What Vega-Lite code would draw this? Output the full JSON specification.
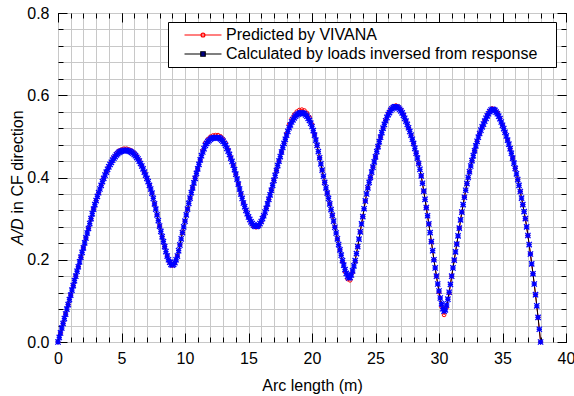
{
"$schema": "https://vega.github.io/schema/vega-lite/v6.json",
"width": 508, "height": 329,
"autosize": {"type": "none"},
"padding": {"left": 58, "top": 13, "right": 8, "bottom": 54},
"config": {
  "font": "Liberation Sans",
  "view": {"stroke": "black", "strokeWidth": 1},
  "axis": {"domain": false, "tickColor": "black", "tickWidth": 1, "gridColor": "#c8c8c8", "gridWidth": 1, "labelColor": "black", "titleColor": "black", "labelFontSize": 16, "titleFontSize": 16, "titleFontWeight": "normal", "labelFlush": false}
},
"resolve": {"axis": {"x": "independent", "y": "independent"}},
"datasets": {
"pred": [
{"x":0,"y":0},{"x":0.2,"y":0.022},{"x":0.4,"y":0.045},{"x":0.6,"y":0.068},{"x":0.8,"y":0.091},{"x":1.0,"y":0.114},{"x":1.2,"y":0.137},{"x":1.4,"y":0.160},{"x":1.6,"y":0.183},{"x":1.8,"y":0.206},
{"x":2.0,"y":0.229},{"x":2.2,"y":0.253},{"x":2.4,"y":0.276},{"x":2.6,"y":0.300},{"x":2.8,"y":0.323},{"x":3.0,"y":0.344},{"x":3.2,"y":0.363},{"x":3.4,"y":0.381},{"x":3.6,"y":0.398},{"x":3.8,"y":0.413},
{"x":4.0,"y":0.426},{"x":4.2,"y":0.437},{"x":4.4,"y":0.449},{"x":4.6,"y":0.459},{"x":4.8,"y":0.465},{"x":5.0,"y":0.468},{"x":5.2,"y":0.470},{"x":5.4,"y":0.470},{"x":5.6,"y":0.468},{"x":5.8,"y":0.465},
{"x":6.0,"y":0.460},{"x":6.2,"y":0.452},{"x":6.4,"y":0.442},{"x":6.6,"y":0.428},{"x":6.8,"y":0.413},{"x":7.0,"y":0.398},{"x":7.2,"y":0.381},{"x":7.4,"y":0.362},{"x":7.6,"y":0.336},{"x":7.8,"y":0.309},
{"x":8.0,"y":0.282},{"x":8.2,"y":0.256},{"x":8.4,"y":0.232},{"x":8.6,"y":0.209},{"x":8.8,"y":0.193},{"x":9.0,"y":0.186},{"x":9.2,"y":0.192},{"x":9.4,"y":0.209},{"x":9.6,"y":0.236},{"x":9.8,"y":0.266},
{"x":10.0,"y":0.294},{"x":10.2,"y":0.323},{"x":10.4,"y":0.350},{"x":10.6,"y":0.375},{"x":10.8,"y":0.398},{"x":11.0,"y":0.421},{"x":11.2,"y":0.443},{"x":11.4,"y":0.465},{"x":11.6,"y":0.484},{"x":11.8,"y":0.493},
{"x":12.0,"y":0.499},{"x":12.2,"y":0.502},{"x":12.4,"y":0.503},{"x":12.6,"y":0.503},{"x":12.8,"y":0.500},{"x":13.0,"y":0.494},{"x":13.2,"y":0.484},{"x":13.4,"y":0.468},{"x":13.6,"y":0.449},{"x":13.8,"y":0.430},
{"x":14.0,"y":0.408},{"x":14.2,"y":0.384},{"x":14.4,"y":0.360},{"x":14.6,"y":0.338},{"x":14.8,"y":0.320},{"x":15.0,"y":0.304},{"x":15.2,"y":0.291},{"x":15.4,"y":0.282},{"x":15.6,"y":0.279},{"x":15.8,"y":0.282},
{"x":16.0,"y":0.292},{"x":16.2,"y":0.307},{"x":16.4,"y":0.325},{"x":16.6,"y":0.347},{"x":16.8,"y":0.369},{"x":17.0,"y":0.393},{"x":17.2,"y":0.417},{"x":17.4,"y":0.440},{"x":17.6,"y":0.462},{"x":17.8,"y":0.483},
{"x":18.0,"y":0.506},{"x":18.2,"y":0.529},{"x":18.4,"y":0.543},{"x":18.6,"y":0.553},{"x":18.8,"y":0.560},{"x":19.0,"y":0.564},{"x":19.2,"y":0.565},{"x":19.4,"y":0.563},{"x":19.6,"y":0.557},{"x":19.8,"y":0.547},
{"x":20.0,"y":0.529},{"x":20.2,"y":0.505},{"x":20.4,"y":0.478},{"x":20.6,"y":0.448},{"x":20.8,"y":0.418},{"x":21.0,"y":0.388},{"x":21.2,"y":0.362},{"x":21.4,"y":0.336},{"x":21.6,"y":0.308},{"x":21.8,"y":0.279},
{"x":22.0,"y":0.251},{"x":22.2,"y":0.224},{"x":22.4,"y":0.196},{"x":22.6,"y":0.171},{"x":22.8,"y":0.153},{"x":23.0,"y":0.150},{"x":23.2,"y":0.169},{"x":23.4,"y":0.197},{"x":23.6,"y":0.232},{"x":23.8,"y":0.268},
{"x":24.0,"y":0.305},{"x":24.2,"y":0.343},{"x":24.4,"y":0.375},{"x":24.6,"y":0.400},{"x":24.8,"y":0.425},{"x":25.0,"y":0.450},{"x":25.2,"y":0.475},{"x":25.4,"y":0.498},{"x":25.6,"y":0.520},{"x":25.8,"y":0.539},
{"x":26.0,"y":0.556},{"x":26.2,"y":0.566},{"x":26.4,"y":0.573},{"x":26.6,"y":0.575},{"x":26.8,"y":0.572},{"x":27.0,"y":0.565},{"x":27.2,"y":0.552},{"x":27.4,"y":0.537},{"x":27.6,"y":0.521},{"x":27.8,"y":0.503},
{"x":28.0,"y":0.483},{"x":28.2,"y":0.459},{"x":28.4,"y":0.434},{"x":28.6,"y":0.404},{"x":28.8,"y":0.367},{"x":29.0,"y":0.327},{"x":29.2,"y":0.287},{"x":29.4,"y":0.244},{"x":29.6,"y":0.200},{"x":29.8,"y":0.160},
{"x":30.0,"y":0.121},{"x":30.2,"y":0.086},{"x":30.4,"y":0.066},{"x":30.6,"y":0.084},{"x":30.8,"y":0.119},{"x":31.0,"y":0.160},{"x":31.2,"y":0.199},{"x":31.4,"y":0.238},{"x":31.6,"y":0.277},{"x":31.8,"y":0.316},
{"x":32.0,"y":0.352},{"x":32.2,"y":0.385},{"x":32.4,"y":0.414},{"x":32.6,"y":0.441},{"x":32.8,"y":0.465},{"x":33.0,"y":0.488},{"x":33.2,"y":0.507},{"x":33.4,"y":0.523},{"x":33.6,"y":0.538},{"x":33.8,"y":0.552},
{"x":34.0,"y":0.562},{"x":34.2,"y":0.568},{"x":34.4,"y":0.565},{"x":34.6,"y":0.557},{"x":34.8,"y":0.544},{"x":35.0,"y":0.527},{"x":35.2,"y":0.510},{"x":35.4,"y":0.491},{"x":35.6,"y":0.470},{"x":35.8,"y":0.447},
{"x":36.0,"y":0.422},{"x":36.2,"y":0.395},{"x":36.4,"y":0.366},{"x":36.6,"y":0.334},{"x":36.8,"y":0.300},{"x":37.0,"y":0.259},{"x":37.2,"y":0.214},{"x":37.4,"y":0.166},{"x":37.6,"y":0.115},{"x":37.8,"y":0.060},
{"x":38.0,"y":0}
],
"calc": [
{"x":0,"y":0},{"x":0.1,"y":0.011},{"x":0.2,"y":0.022},{"x":0.3,"y":0.034},{"x":0.4,"y":0.045},{"x":0.5,"y":0.057},{"x":0.6,"y":0.068},{"x":0.7,"y":0.080},{"x":0.8,"y":0.091},{"x":0.9,"y":0.103},
{"x":1.0,"y":0.114},{"x":1.1,"y":0.126},{"x":1.2,"y":0.137},{"x":1.3,"y":0.149},{"x":1.4,"y":0.160},{"x":1.5,"y":0.172},{"x":1.6,"y":0.183},{"x":1.7,"y":0.195},{"x":1.8,"y":0.206},{"x":1.9,"y":0.218},
{"x":2.0,"y":0.229},{"x":2.1,"y":0.241},{"x":2.2,"y":0.253},{"x":2.3,"y":0.265},{"x":2.4,"y":0.276},{"x":2.5,"y":0.288},{"x":2.6,"y":0.300},{"x":2.7,"y":0.312},{"x":2.8,"y":0.323},{"x":2.9,"y":0.334},
{"x":3.0,"y":0.344},{"x":3.1,"y":0.354},{"x":3.2,"y":0.363},{"x":3.3,"y":0.372},{"x":3.4,"y":0.381},{"x":3.5,"y":0.390},{"x":3.6,"y":0.398},{"x":3.7,"y":0.406},{"x":3.8,"y":0.413},{"x":3.9,"y":0.420},
{"x":4.0,"y":0.426},{"x":4.1,"y":0.432},{"x":4.2,"y":0.437},{"x":4.3,"y":0.442},{"x":4.4,"y":0.447},{"x":4.5,"y":0.451},{"x":4.6,"y":0.455},{"x":4.7,"y":0.458},{"x":4.8,"y":0.461},{"x":4.9,"y":0.463},
{"x":5.0,"y":0.464},{"x":5.1,"y":0.465},{"x":5.2,"y":0.466},{"x":5.3,"y":0.466},{"x":5.4,"y":0.466},{"x":5.5,"y":0.465},{"x":5.6,"y":0.464},{"x":5.7,"y":0.463},{"x":5.8,"y":0.461},{"x":5.9,"y":0.459},
{"x":6.0,"y":0.456},{"x":6.1,"y":0.453},{"x":6.2,"y":0.449},{"x":6.3,"y":0.445},{"x":6.4,"y":0.440},{"x":6.5,"y":0.434},{"x":6.6,"y":0.428},{"x":6.7,"y":0.421},{"x":6.8,"y":0.413},{"x":6.9,"y":0.406},
{"x":7.0,"y":0.398},{"x":7.1,"y":0.390},{"x":7.2,"y":0.381},{"x":7.3,"y":0.372},{"x":7.4,"y":0.362},{"x":7.5,"y":0.349},{"x":7.6,"y":0.336},{"x":7.7,"y":0.323},{"x":7.8,"y":0.309},{"x":7.9,"y":0.295},
{"x":8.0,"y":0.282},{"x":8.1,"y":0.269},{"x":8.2,"y":0.256},{"x":8.3,"y":0.244},{"x":8.4,"y":0.232},{"x":8.5,"y":0.220},{"x":8.6,"y":0.209},{"x":8.7,"y":0.200},{"x":8.8,"y":0.194},{"x":8.9,"y":0.189},
{"x":9.0,"y":0.187},{"x":9.1,"y":0.189},{"x":9.2,"y":0.193},{"x":9.3,"y":0.200},{"x":9.4,"y":0.209},{"x":9.5,"y":0.222},{"x":9.6,"y":0.236},{"x":9.7,"y":0.251},{"x":9.8,"y":0.266},{"x":9.9,"y":0.280},
{"x":10.0,"y":0.294},{"x":10.1,"y":0.309},{"x":10.2,"y":0.323},{"x":10.3,"y":0.337},{"x":10.4,"y":0.350},{"x":10.5,"y":0.363},{"x":10.6,"y":0.375},{"x":10.7,"y":0.387},{"x":10.8,"y":0.398},{"x":10.9,"y":0.410},
{"x":11.0,"y":0.421},{"x":11.1,"y":0.432},{"x":11.2,"y":0.443},{"x":11.3,"y":0.453},{"x":11.4,"y":0.462},{"x":11.5,"y":0.470},{"x":11.6,"y":0.478},{"x":11.7,"y":0.483},{"x":11.8,"y":0.487},{"x":11.9,"y":0.490},
{"x":12.0,"y":0.493},{"x":12.1,"y":0.495},{"x":12.2,"y":0.496},{"x":12.3,"y":0.497},{"x":12.4,"y":0.497},{"x":12.5,"y":0.497},{"x":12.6,"y":0.497},{"x":12.7,"y":0.496},{"x":12.8,"y":0.494},{"x":12.9,"y":0.491},
{"x":13.0,"y":0.488},{"x":13.1,"y":0.483},{"x":13.2,"y":0.478},{"x":13.3,"y":0.471},{"x":13.4,"y":0.464},{"x":13.5,"y":0.456},{"x":13.6,"y":0.447},{"x":13.7,"y":0.439},{"x":13.8,"y":0.430},{"x":13.9,"y":0.419},
{"x":14.0,"y":0.408},{"x":14.1,"y":0.396},{"x":14.2,"y":0.384},{"x":14.3,"y":0.372},{"x":14.4,"y":0.360},{"x":14.5,"y":0.349},{"x":14.6,"y":0.338},{"x":14.7,"y":0.329},{"x":14.8,"y":0.320},{"x":14.9,"y":0.312},
{"x":15.0,"y":0.304},{"x":15.1,"y":0.298},{"x":15.2,"y":0.292},{"x":15.3,"y":0.288},{"x":15.4,"y":0.284},{"x":15.5,"y":0.282},{"x":15.6,"y":0.281},{"x":15.7,"y":0.282},{"x":15.8,"y":0.284},{"x":15.9,"y":0.288},
{"x":16.0,"y":0.293},{"x":16.1,"y":0.300},{"x":16.2,"y":0.307},{"x":16.3,"y":0.316},{"x":16.4,"y":0.325},{"x":16.5,"y":0.336},{"x":16.6,"y":0.347},{"x":16.7,"y":0.358},{"x":16.8,"y":0.369},{"x":16.9,"y":0.381},
{"x":17.0,"y":0.393},{"x":17.1,"y":0.405},{"x":17.2,"y":0.417},{"x":17.3,"y":0.429},{"x":17.4,"y":0.440},{"x":17.5,"y":0.451},{"x":17.6,"y":0.462},{"x":17.7,"y":0.473},{"x":17.8,"y":0.483},{"x":17.9,"y":0.493},
{"x":18.0,"y":0.503},{"x":18.1,"y":0.512},{"x":18.2,"y":0.521},{"x":18.3,"y":0.528},{"x":18.4,"y":0.535},{"x":18.5,"y":0.540},{"x":18.6,"y":0.545},{"x":18.7,"y":0.549},{"x":18.8,"y":0.552},{"x":18.9,"y":0.554},
{"x":19.0,"y":0.556},{"x":19.1,"y":0.557},{"x":19.2,"y":0.557},{"x":19.3,"y":0.556},{"x":19.4,"y":0.555},{"x":19.5,"y":0.552},{"x":19.6,"y":0.549},{"x":19.7,"y":0.544},{"x":19.8,"y":0.539},{"x":19.9,"y":0.532},
{"x":20.0,"y":0.524},{"x":20.1,"y":0.514},{"x":20.2,"y":0.503},{"x":20.3,"y":0.491},{"x":20.4,"y":0.478},{"x":20.5,"y":0.463},{"x":20.6,"y":0.448},{"x":20.7,"y":0.433},{"x":20.8,"y":0.418},{"x":20.9,"y":0.403},
{"x":21.0,"y":0.388},{"x":21.1,"y":0.375},{"x":21.2,"y":0.362},{"x":21.3,"y":0.349},{"x":21.4,"y":0.336},{"x":21.5,"y":0.322},{"x":21.6,"y":0.308},{"x":21.7,"y":0.294},{"x":21.8,"y":0.279},{"x":21.9,"y":0.265},
{"x":22.0,"y":0.251},{"x":22.1,"y":0.237},{"x":22.2,"y":0.224},{"x":22.3,"y":0.211},{"x":22.4,"y":0.198},{"x":22.5,"y":0.187},{"x":22.6,"y":0.176},{"x":22.7,"y":0.167},{"x":22.8,"y":0.160},{"x":22.9,"y":0.156},
{"x":23.0,"y":0.157},{"x":23.1,"y":0.163},{"x":23.2,"y":0.173},{"x":23.3,"y":0.185},{"x":23.4,"y":0.198},{"x":23.5,"y":0.215},{"x":23.6,"y":0.232},{"x":23.7,"y":0.250},{"x":23.8,"y":0.268},{"x":23.9,"y":0.287},
{"x":24.0,"y":0.305},{"x":24.1,"y":0.324},{"x":24.2,"y":0.343},{"x":24.3,"y":0.360},{"x":24.4,"y":0.375},{"x":24.5,"y":0.388},{"x":24.6,"y":0.400},{"x":24.7,"y":0.413},{"x":24.8,"y":0.425},{"x":24.9,"y":0.438},
{"x":25.0,"y":0.450},{"x":25.1,"y":0.463},{"x":25.2,"y":0.475},{"x":25.3,"y":0.487},{"x":25.4,"y":0.498},{"x":25.5,"y":0.509},{"x":25.6,"y":0.520},{"x":25.7,"y":0.529},{"x":25.8,"y":0.538},{"x":25.9,"y":0.546},
{"x":26.0,"y":0.553},{"x":26.1,"y":0.558},{"x":26.2,"y":0.563},{"x":26.3,"y":0.567},{"x":26.4,"y":0.570},{"x":26.5,"y":0.572},{"x":26.6,"y":0.572},{"x":26.7,"y":0.571},{"x":26.8,"y":0.569},{"x":26.9,"y":0.566},
{"x":27.0,"y":0.562},{"x":27.1,"y":0.557},{"x":27.2,"y":0.551},{"x":27.3,"y":0.544},{"x":27.4,"y":0.537},{"x":27.5,"y":0.529},{"x":27.6,"y":0.521},{"x":27.7,"y":0.512},{"x":27.8,"y":0.503},{"x":27.9,"y":0.493},
{"x":28.0,"y":0.483},{"x":28.1,"y":0.471},{"x":28.2,"y":0.459},{"x":28.3,"y":0.447},{"x":28.4,"y":0.434},{"x":28.5,"y":0.420},{"x":28.6,"y":0.404},{"x":28.7,"y":0.386},{"x":28.8,"y":0.367},{"x":28.9,"y":0.347},
{"x":29.0,"y":0.327},{"x":29.1,"y":0.307},{"x":29.2,"y":0.287},{"x":29.3,"y":0.266},{"x":29.4,"y":0.244},{"x":29.5,"y":0.222},{"x":29.6,"y":0.200},{"x":29.7,"y":0.180},{"x":29.8,"y":0.160},{"x":29.9,"y":0.141},
{"x":30.0,"y":0.124},{"x":30.1,"y":0.107},{"x":30.2,"y":0.093},{"x":30.3,"y":0.081},{"x":30.4,"y":0.075},{"x":30.5,"y":0.078},{"x":30.6,"y":0.090},{"x":30.7,"y":0.104},{"x":30.8,"y":0.121},{"x":30.9,"y":0.140},
{"x":31.0,"y":0.160},{"x":31.1,"y":0.180},{"x":31.2,"y":0.199},{"x":31.3,"y":0.219},{"x":31.4,"y":0.238},{"x":31.5,"y":0.258},{"x":31.6,"y":0.277},{"x":31.7,"y":0.297},{"x":31.8,"y":0.316},{"x":31.9,"y":0.334},
{"x":32.0,"y":0.352},{"x":32.1,"y":0.369},{"x":32.2,"y":0.385},{"x":32.3,"y":0.400},{"x":32.4,"y":0.414},{"x":32.5,"y":0.428},{"x":32.6,"y":0.441},{"x":32.7,"y":0.453},{"x":32.8,"y":0.465},{"x":32.9,"y":0.477},
{"x":33.0,"y":0.488},{"x":33.1,"y":0.498},{"x":33.2,"y":0.507},{"x":33.3,"y":0.515},{"x":33.4,"y":0.523},{"x":33.5,"y":0.530},{"x":33.6,"y":0.537},{"x":33.7,"y":0.544},{"x":33.8,"y":0.550},{"x":33.9,"y":0.555},
{"x":34.0,"y":0.560},{"x":34.1,"y":0.564},{"x":34.2,"y":0.566},{"x":34.3,"y":0.565},{"x":34.4,"y":0.563},{"x":34.5,"y":0.559},{"x":34.6,"y":0.555},{"x":34.7,"y":0.549},{"x":34.8,"y":0.543},{"x":34.9,"y":0.535},
{"x":35.0,"y":0.527},{"x":35.1,"y":0.519},{"x":35.2,"y":0.510},{"x":35.3,"y":0.501},{"x":35.4,"y":0.491},{"x":35.5,"y":0.481},{"x":35.6,"y":0.470},{"x":35.7,"y":0.459},{"x":35.8,"y":0.447},{"x":35.9,"y":0.435},
{"x":36.0,"y":0.422},{"x":36.1,"y":0.409},{"x":36.2,"y":0.395},{"x":36.3,"y":0.381},{"x":36.4,"y":0.366},{"x":36.5,"y":0.350},{"x":36.6,"y":0.334},{"x":36.7,"y":0.317},{"x":36.8,"y":0.300},{"x":36.9,"y":0.280},
{"x":37.0,"y":0.259},{"x":37.1,"y":0.237},{"x":37.2,"y":0.214},{"x":37.3,"y":0.190},{"x":37.4,"y":0.166},{"x":37.5,"y":0.141},{"x":37.6,"y":0.115},{"x":37.7,"y":0.088},{"x":37.8,"y":0.060},{"x":37.9,"y":0.031},
{"x":38.0,"y":0}
]
},
"layer": [
{
 "data": {"name": "pred"},
 "mark": {"type": "line", "strokeWidth": 1, "clip": false},
 "encoding": {
  "x": {"field": "x", "type": "quantitative", "scale": {"domain": [0, 40], "nice": false, "zero": false},
        "axis": {"orient": "bottom", "values": [0,1,2,3,4,5,6,7,8,9,10,11,12,13,14,15,16,17,18,19,20,21,22,23,24,25,26,27,28,29,30,31,32,33,34,35,36,37,38,39,40], "grid": true, "ticks": true, "tickSize": -5, "labels": false, "title": null}},
  "y": {"field": "y", "type": "quantitative", "scale": {"domain": [0, 0.8], "nice": false},
        "axis": {"orient": "left", "values": [0,0.04,0.08,0.12,0.16,0.2,0.24,0.28,0.32,0.36,0.4,0.44,0.48,0.52,0.56,0.6,0.64,0.68,0.72,0.76,0.8], "grid": true, "ticks": true, "tickSize": -5, "labels": false,
                 "title": "A/D", "titleFontStyle": "italic", "titleAngle": 270, "titleAlign": "left", "titleBaseline": "alphabetic", "titleX": -36, "titleY": 231.5}},
  "stroke": {"datum": "Predicted by VIVANA", "type": "nominal",
        "scale": {"domain": ["Predicted by VIVANA", "Calculated by loads inversed from response"], "range": ["#ff0000", "#000000"]},
        "legend": {"title": null, "orient": "none", "legendX": 110, "legendY": 9, "strokeColor": "black", "fillColor": "white", "padding": 5,
                   "labelFontSize": 16, "labelColor": "black", "labelLimit": 0, "symbolSize": 152, "symbolStrokeWidth": 1.2, "symbolOffset": 22, "labelOffset": 15, "rowPadding": 3,
                   "labelExpr": "datum.label + '\u00a0\u00a0\u00a0\u200b'",
                   "encode": {"symbols": {"update": {
                      "shape": {"signal": "datum.value === 'Predicted by VIVANA' ? 'M-3,0L3,0M0.32,0A0.32,0.32,0,1,1,-0.32,0A0.32,0.32,0,1,1,0.32,0' : 'M-3,0L3,0M-0.36,-0.36L0.36,-0.36L0.36,0.36L-0.36,0.36Z'"},
                      "fill": {"signal": "datum.value === 'Predicted by VIVANA' ? 'white' : 'blue'"}}}}}}
 }
},
{
 "data": {"name": "pred"},
 "mark": {"type": "point", "shape": "circle", "filled": false, "stroke": "#ff0000", "strokeWidth": 1, "size": 14, "opacity": 1, "clip": false},
 "encoding": {
  "x": {"field": "x", "type": "quantitative",
        "axis": {"orient": "bottom", "values": [0,5,10,15,20,25,30,35,40], "grid": false, "tickSize": -9, "labels": true, "labelPadding": 17, "labelBaseline": "top", "labelAlign": "center",
                 "title": "Arc length (m)", "titleBaseline": "alphabetic", "titleAlign": "center", "titleX": 254, "titleY": 48}},
  "y": {"field": "y", "type": "quantitative",
        "axis": {"orient": "left", "values": [0,0.2,0.4,0.6,0.8], "format": ".1f", "grid": false, "tickSize": -9, "labels": true, "labelPadding": 18, "labelBaseline": "middle",
                 "title": "in CF direction", "titleAngle": 270, "titleAlign": "left", "titleBaseline": "alphabetic", "titleX": -36, "titleY": 200}}
 }
},
{
 "data": {"name": "calc"},
 "mark": {"type": "line", "strokeWidth": 1, "clip": false},
 "encoding": {
  "x": {"field": "x", "type": "quantitative",
        "axis": {"orient": "top", "values": [0,1,2,3,4,5,6,7,8,9,10,11,12,13,14,15,16,17,18,19,20,21,22,23,24,25,26,27,28,29,30,31,32,33,34,35,36,37,38,39,40], "grid": false, "tickSize": -5, "labels": false, "title": null}},
  "y": {"field": "y", "type": "quantitative",
        "axis": {"orient": "right", "values": [0,0.04,0.08,0.12,0.16,0.2,0.24,0.28,0.32,0.36,0.4,0.44,0.48,0.52,0.56,0.6,0.64,0.68,0.72,0.76,0.8], "grid": false, "tickSize": -5, "labels": false, "title": null}},
  "stroke": {"datum": "Calculated by loads inversed from response", "type": "nominal"}
 }
},
{
 "data": {"name": "calc"},
 "mark": {"type": "point", "shape": "M-1,-1L1,1M-1,1L1,-1M-1,0L1,0M0,-1L0,1", "filled": false, "stroke": "#0000ff", "strokeWidth": 1.3, "size": 28, "opacity": 1, "clip": false},
 "encoding": {
  "x": {"field": "x", "type": "quantitative",
        "axis": {"orient": "top", "values": [0,5,10,15,20,25,30,35,40], "grid": false, "tickSize": -9, "labels": false, "title": null}},
  "y": {"field": "y", "type": "quantitative",
        "axis": {"orient": "right", "values": [0,0.2,0.4,0.6,0.8], "grid": false, "tickSize": -9, "labels": false, "title": null}}
 }
}
]
}
